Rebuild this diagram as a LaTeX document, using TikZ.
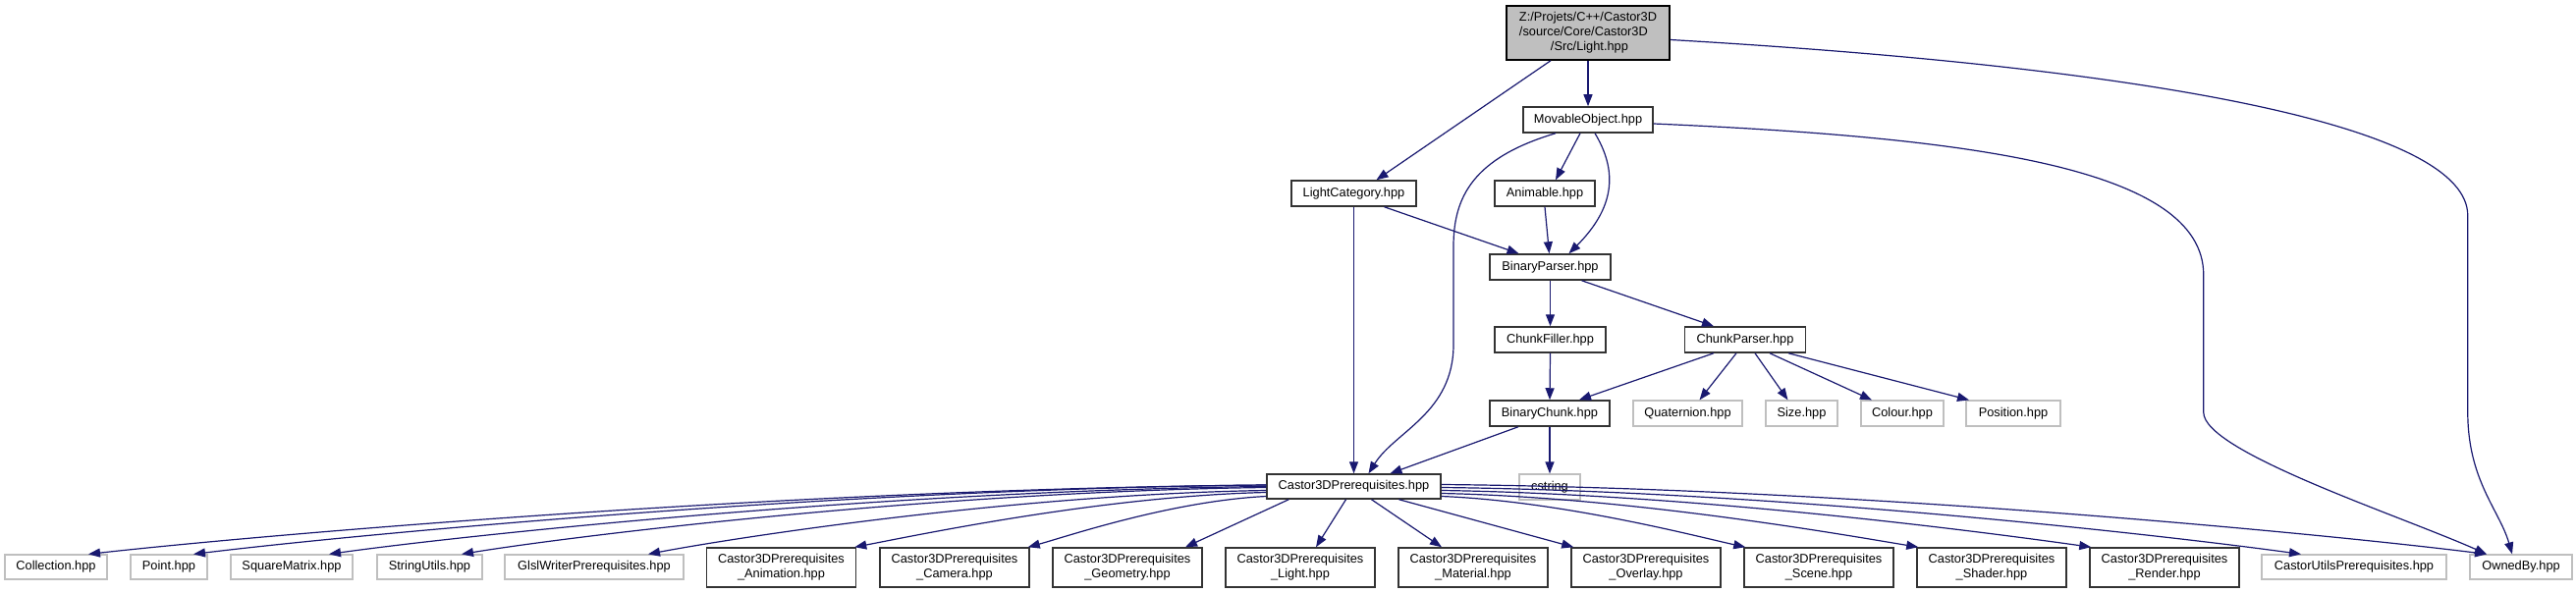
\documentclass[tikz,border=0pt]{standalone}
\usepackage{fontspec}
\setmainfont{Liberation Sans}
\usetikzlibrary{arrows.meta}
\definecolor{edgeblue}{RGB}{25,25,112}
\definecolor{undoc}{RGB}{191,191,191}
\begin{document}
\begin{tikzpicture}[x=1pt,y=-1pt,
  every node/.style={font=\fontsize{12.8pt}{15pt}\selectfont, inner sep=0pt, rectangle},
  docbox/.style={draw=black!80, line width=1.5pt, fill=white, minimum height=26pt},
  twobox/.style={draw=black!80, line width=1.5pt, fill=white, minimum height=40pt, minimum width=152pt, align=center},
  undocbox/.style={draw=undoc, line width=1.2pt, fill=white, minimum height=25pt},
  edge/.style={draw=edgeblue, line width=1.2pt, -{Triangle[length=12pt,width=9pt]}},
]
\useasboundingbox[fill=white] (0,0) rectangle (2623,604);
% nodes
\node[draw=black, line width=1.5pt, fill=undoc, minimum width=166pt, minimum height=55pt, align=left] (light) at (1617,33.5) {Z:/Projets/C++/Castor3D\\/source/Core/Castor3D\\\hspace*{32pt}/Src/Light.hpp};
\node[docbox, minimum width=132pt] (movable) at (1617,122) {MovableObject.hpp};
\node[docbox, minimum width=127pt] (lightcat) at (1378.5,197) {LightCategory.hpp};
\node[docbox, minimum width=102pt] (animable) at (1573,197) {Animable.hpp};
\node[docbox, minimum width=123pt] (binparser) at (1578.5,272) {BinaryParser.hpp};
\node[docbox, minimum width=113pt] (chunkfiller) at (1578.5,346) {ChunkFiller.hpp};
\node[docbox, minimum width=123pt] (chunkparser) at (1777,346) {ChunkParser.hpp};
\node[docbox, minimum width=122pt] (binchunk) at (1578,421) {BinaryChunk.hpp};
\node[undocbox, minimum width=111pt, minimum height=26pt] (quaternion) at (1718.5,421) {Quaternion.hpp};
\node[undocbox, minimum width=73pt, minimum height=26pt] (size) at (1834.5,421) {Size.hpp};
\node[undocbox, minimum width=84pt, minimum height=26pt] (colour) at (1937,421) {Colour.hpp};
\node[undocbox, minimum width=96pt, minimum height=26pt] (position) at (2050,421) {Position.hpp};
\node[docbox, minimum width=177pt, minimum height=25pt] (c3d) at (1378.5,495.5) {Castor3DPrerequisites.hpp};
\node[undocbox, minimum width=62pt, minimum height=26pt] (cstring) at (1578,496) {cstring};
% bottom row
\node[undocbox, minimum width=104pt] (collection) at (57,577.5) {Collection.hpp};
\node[undocbox, minimum width=78pt] (point) at (172,577.5) {Point.hpp};
\node[undocbox, minimum width=124pt] (sqmatrix) at (297,577.5) {SquareMatrix.hpp};
\node[undocbox, minimum width=107pt] (strutils) at (437.5,577.5) {StringUtils.hpp};
\node[undocbox, minimum width=182pt] (glsl) at (605,577.5) {GlslWriterPrerequisites.hpp};
\node[twobox] (animation) at (795.5,578) {Castor3DPrerequisites\\\_Animation.hpp};
\node[twobox] (camera) at (972,578) {Castor3DPrerequisites\\\_Camera.hpp};
\node[twobox] (geometry) at (1148,578) {Castor3DPrerequisites\\\_Geometry.hpp};
\node[twobox] (c3dlight) at (1324,578) {Castor3DPrerequisites\\\_Light.hpp};
\node[twobox] (material) at (1500,578) {Castor3DPrerequisites\\\_Material.hpp};
\node[twobox] (overlay) at (1676,578) {Castor3DPrerequisites\\\_Overlay.hpp};
\node[twobox] (scene) at (1852,578) {Castor3DPrerequisites\\\_Scene.hpp};
\node[twobox] (shader) at (2028,578) {Castor3DPrerequisites\\\_Shader.hpp};
\node[twobox] (render) at (2204,578) {Castor3DPrerequisites\\\_Render.hpp};
\node[undocbox, minimum width=188pt] (castorutils) at (2397,577.5) {CastorUtilsPrerequisites.hpp};
\node[undocbox, minimum width=104pt] (ownedby) at (2567,577.5) {OwnedBy.hpp};
% edges
\draw[edge] (light.south) -- (movable.north);
\draw[edge] ([xshift=-38pt]light.south) -- ([xshift=23pt]lightcat.north);
\draw[edge] ([yshift=-7pt]light.east) .. controls +(500,29) and +(0,-90) .. ++(812,179) -- ++(0,200) .. controls +(0,70) and +(-13,-45) .. ([xshift=-9pt]ownedby.north);
\draw[edge] ([xshift=-8pt]movable.south) -- ([xshift=11pt]animable.north);
\draw[edge] ([xshift=7pt]movable.south) .. controls +(21,35) and +(50,-50) .. ([xshift=19pt]binparser.north);
\draw[edge] ([xshift=-33pt]movable.south) .. controls +(-84,25) and +(0,-50) .. ++(-104,115) -- ++(0,100) .. controls +(0,70) and +(27,-43) .. ([xshift=15pt]c3d.north);
\draw[edge] ([yshift=-4pt]movable.east) .. controls +(320,14) and +(0,-110) .. ++(560,154) -- ++(0,140) .. controls +(0,40) and +(-90,-40) .. ([xshift=-35pt]ownedby.north);
\draw[edge] ([xshift=31pt]lightcat.south) -- ([xshift=-32pt]binparser.north);
\draw[edge] (lightcat.south) -- (c3d.north);
\draw[edge] (animable.south) -- ([xshift=-1pt]binparser.north);
\draw[edge] (binparser.south) -- (chunkfiller.north);
\draw[edge] ([xshift=32pt]binparser.south) -- ([xshift=-32pt]chunkparser.north);
\draw[edge] (chunkfiller.south) -- (binchunk.north);
\draw[edge] ([xshift=-32pt]chunkparser.south) -- ([xshift=30pt]binchunk.north);
\draw[edge] ([xshift=-9pt]chunkparser.south) -- ([xshift=12pt]quaternion.north);
\draw[edge] ([xshift=10pt]chunkparser.south) -- ([xshift=-14pt]size.north);
\draw[edge] ([xshift=25pt]chunkparser.south) -- ([xshift=-31pt]colour.north);
\draw[edge] ([xshift=44pt]chunkparser.south) -- ([xshift=-45pt]position.north);
\draw[edge] ([xshift=-32pt]binchunk.south) -- ([xshift=37pt]c3d.north);
\draw[edge] (binchunk.south) -- (cstring.north);
% Castor3DPrerequisites to bottom row
\draw[edge] ([yshift=1.5pt]c3d.west) .. controls +(-480,4) and +(180,-20) .. ([xshift=33pt]collection.north);
\draw[edge] ([yshift=1.5pt]c3d.west) .. controls +(-437,4) and +(164,-20) .. ([xshift=25pt]point.north);
\draw[edge] (c3d.west) .. controls +(-382,4) and +(143,-20) .. ([xshift=38pt]sqmatrix.north);
\draw[edge] ([yshift=-1pt]c3d.west) .. controls +(-328,4) and +(123,-20) .. ([xshift=32.5pt]strutils.north);
\draw[edge] ([yshift=-4pt]c3d.west) .. controls +(-252,4) and +(95,-18) .. ([xshift=55pt]glsl.north);
\draw[edge] ([yshift=-6pt]c3d.west) .. controls +(-168,4) and +(63,-12) .. ([xshift=-2pt]animation.north east);
\draw[edge] ([yshift=-10pt]c3d.west) .. controls +(-98,5) and +(37,-10) .. ([xshift=-2pt]camera.north east);
\draw[edge] ([xshift=23pt]c3d.south west) -- ([xshift=59pt]geometry.north);
\draw[edge] ([xshift=-8pt]c3d.south) -- ([xshift=16pt]c3dlight.north);
\draw[edge] ([xshift=18pt]c3d.south) -- ([xshift=-32pt]material.north);
\draw[edge] ([xshift=46pt]c3d.south) -- ([xshift=3pt]overlay.north west);
\draw[edge] ([yshift=-10pt]c3d.east) .. controls +(124,5) and +(-46,-10) .. ([xshift=2pt]scene.north west);
\draw[edge] ([yshift=-7pt]c3d.east) .. controls +(194,4) and +(-73,-12) .. ([xshift=2pt]shader.north west);
\draw[edge] ([yshift=-4pt]c3d.east) .. controls +(265,4) and +(-100,-14) .. ([xshift=2pt]render.north west);
\draw[edge] ([yshift=-1pt]c3d.east) .. controls +(350,4) and +(-131,-18) .. ([xshift=-54pt]castorutils.north);
\draw[edge] ([yshift=2pt]c3d.east) .. controls +(426,4) and +(-160,-20) .. ([xshift=-35pt]ownedby.north);
\end{tikzpicture}
\end{document}
